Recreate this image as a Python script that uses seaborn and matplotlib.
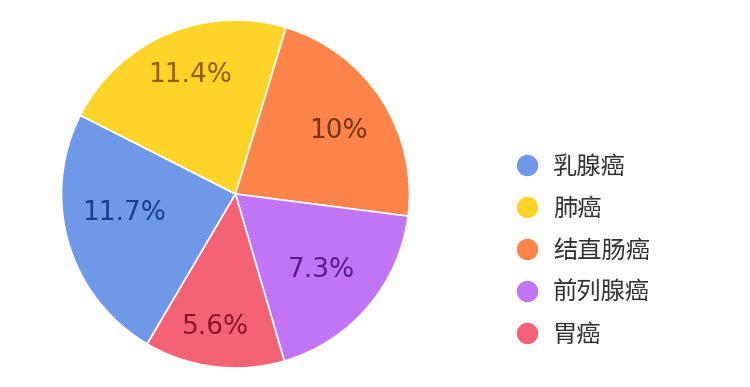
import numpy as np
import seaborn as sns
import matplotlib.pyplot as plt
from matplotlib.lines import Line2D

# slice order (clockwise from the lower-left): breast, lung, colorectal, prostate, stomach
cancers = ['乳腺癌', '肺癌', '结直肠癌', '前列腺癌', '胃癌']
pct_labels = ['11.7%', '11.4%', '10%', '7.3%', '5.6%']
# angular share of each slice as drawn in the picture (degrees)
slice_deg = [86.4, 80.0, 80.4, 66.4, 46.8]

colors = ['#7098e8', '#fed428', '#fe844a', '#c174f3', '#f46375']
text_colors = ['#1a3d8f', '#9a5a06', '#7a3510', '#5b1a8c', '#8c1626']

sns.set_theme(style='white')
plt.rcParams['font.family'] = ['Noto Sans CJK SC', 'DejaVu Sans']

fig = plt.figure(figsize=(7.5, 3.87), dpi=100)
ax = fig.add_axes([61.5 / 750, 19 / 387, 348 / 750, 348 / 387])

wedges, texts = ax.pie(
    slice_deg,
    colors=colors,
    labels=pct_labels,
    startangle=239.5,
    counterclock=False,
    radius=1,
    wedgeprops=dict(edgecolor='white', linewidth=1.2),
    textprops=dict(fontsize=19, family='DejaVu Sans'),
)

# label placement inside each wedge (radius fraction, angle nudge)
label_r = [0.65, 0.73, 0.69, 0.66, 0.77]
label_nudge = [-6.5, -2, -1.5, -1, -1.3]
for w, t, c, r, dth in zip(wedges, texts, text_colors, label_r, label_nudge):
    mid = np.deg2rad((w.theta1 + w.theta2) / 2 + dth)
    t.set_position((r * np.cos(mid), r * np.sin(mid)))
    t.set_color(c)
    t.set_ha('center')
    t.set_va('center')

ax.set_xlim(-1, 1)
ax.set_ylim(-1, 1)
ax.set_aspect('equal')
ax.axis('off')

handles = [Line2D([0], [0], marker='o', linestyle='', markersize=14.4,
                  markerfacecolor=c, markeredgecolor=c) for c in colors]
fig.legend(handles, cancers, loc='center left', bbox_to_anchor=(505 / 750, 0.352),
           frameon=False, fontsize=17.5, labelspacing=0.66, handlelength=1.0,
           handletextpad=0.58, labelcolor='#333333', borderaxespad=0)

fig.savefig('out.png', dpi=100)
